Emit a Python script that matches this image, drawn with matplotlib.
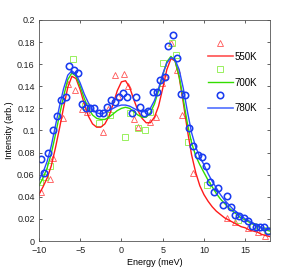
import numpy as np
import matplotlib
matplotlib.use("Agg")
import matplotlib.pyplot as plt
from matplotlib.lines import Line2D

plt.rcParams['font.family'] = ['Liberation Sans', 'DejaVu Sans']

# measured points
x550 = [-9.8, -8.7, -8.3, -7.1, -6.5, -5.6, -4.8, -4.2, -2.2, -1.6, -0.8, -0.4, 0.3, 0.8,
        1.5, 2.0, 3.5, 4.2, 4.9, 5.3, 6.0, 6.7, 7.3, 8.7, 12.8, 13.8, 15.3, 16.5, 17.4]
y550 = [0.044, 0.056, 0.075, 0.111, 0.142, 0.137, 0.119, 0.117, 0.099, 0.119, 0.150, 0.131,
        0.151, 0.140, 0.110, 0.103, 0.108, 0.112, 0.143, 0.149, 0.179, 0.155, 0.114, 0.062,
        0.021, 0.017, 0.012, 0.008, 0.005]

x700 = [-9.9, -9.3, -8.7, -5.9, -4.4, -2.7, -1.4, 0.4, 1.0, 2.0, 2.8, 3.5, 5.0, 6.1, 6.6,
        8.1, 10.4, 14.1, 16.0, 17.6]
y700 = [0.053, 0.058, 0.068, 0.165, 0.122, 0.107, 0.114, 0.094, 0.116, 0.102, 0.100, 0.117,
        0.161, 0.179, 0.168, 0.090, 0.051, 0.019, 0.014, 0.010]

x780 = [-9.8, -9.4, -8.9, -8.3, -7.8, -7.3, -6.7, -6.4, -5.8, -5.3, -4.8, -4.3, -3.8, -3.3,
        -2.7, -2.2, -1.8, -1.3, -0.8, -0.3, 0.2, 0.7, 1.3, 1.8, 2.2, 2.7, 3.2, 3.8, 4.3, 4.7,
        5.3, 5.6, 6.2, 6.7, 7.2, 7.7, 8.2, 8.7, 9.3, 9.8, 10.2, 10.7, 11.2, 11.7, 12.3, 12.8,
        13.3, 13.8, 14.3, 14.8, 15.3, 15.8, 16.3, 16.8, 17.3, 17.7]
y780 = [0.074, 0.062, 0.080, 0.100, 0.113, 0.128, 0.130, 0.158, 0.155, 0.152, 0.124, 0.120,
        0.120, 0.120, 0.116, 0.116, 0.121, 0.128, 0.126, 0.130, 0.134, 0.130, 0.116, 0.130,
        0.121, 0.116, 0.118, 0.135, 0.135, 0.146, 0.148, 0.176, 0.186, 0.166, 0.133, 0.132,
        0.102, 0.086, 0.078, 0.076, 0.068, 0.053, 0.044, 0.048, 0.033, 0.041, 0.031, 0.024,
        0.023, 0.021, 0.018, 0.014, 0.013, 0.013, 0.013, 0.009]

# fitted curves, read every 0.5 meV
xfit = np.arange(-10, 18.01, 0.5)
fit550 = [0.042, 0.049, 0.057, 0.068, 0.084, 0.102, 0.121, 0.139, 0.149, 0.147, 0.137, 0.124,
          0.113, 0.106, 0.103, 0.103, 0.106, 0.113, 0.124, 0.136, 0.144, 0.145, 0.139, 0.128,
          0.118, 0.111, 0.107, 0.107, 0.112, 0.122, 0.138, 0.155, 0.165, 0.163, 0.148, 0.125,
          0.100, 0.078, 0.062, 0.050, 0.042, 0.036, 0.031, 0.027, 0.024, 0.021, 0.019, 0.017,
          0.015, 0.013, 0.012, 0.010, 0.009, 0.008, 0.006, 0.005, 0.004]
fit700 = [0.050, 0.057, 0.066, 0.079, 0.096, 0.114, 0.131, 0.146, 0.152, 0.149, 0.140, 0.129,
          0.120, 0.114, 0.111, 0.110, 0.110, 0.112, 0.115, 0.118, 0.120, 0.121, 0.120, 0.117,
          0.114, 0.112, 0.112, 0.116, 0.124, 0.136, 0.150, 0.162, 0.167, 0.163, 0.149, 0.128,
          0.106, 0.089, 0.077, 0.069, 0.062, 0.055, 0.049, 0.043, 0.038, 0.034, 0.030, 0.027,
          0.024, 0.021, 0.019, 0.017, 0.015, 0.013, 0.012, 0.010, 0.009]
fit780 = [0.055, 0.062, 0.072, 0.086, 0.104, 0.122, 0.138, 0.150, 0.154, 0.151, 0.143, 0.133,
          0.125, 0.119, 0.116, 0.115, 0.116, 0.118, 0.120, 0.122, 0.123, 0.123, 0.122, 0.120,
          0.118, 0.117, 0.117, 0.120, 0.127, 0.138, 0.151, 0.161, 0.166, 0.164, 0.155, 0.138,
          0.117, 0.098, 0.085, 0.076, 0.069, 0.061, 0.054, 0.048, 0.042, 0.037, 0.033, 0.029,
          0.026, 0.023, 0.020, 0.018, 0.016, 0.014, 0.012, 0.011, 0.010]

labels = ['550K', '700K', '780K']
red, green, blue = '#ff1a1a', '#33dd00', '#2a4bff'

fig = plt.figure(figsize=(2.99, 2.73), dpi=100)
ax = fig.add_axes([0.130, 0.117, 0.773, 0.810])

ax.plot(x550, y550, '^', ms=5, mfc='none', mec='#ff5555', mew=0.6)
ax.plot(x700, y700, 's', ms=3.8, mfc='none', mec='#88ee44', mew=0.6)
ax.plot(xfit, fit550, '-', color=red, lw=1.0)
ax.plot(xfit, fit700, '-', color=green, lw=1.0)
ax.plot(xfit, fit780, '-', color=blue, lw=1.0)
ax.plot(x780, y780, 'o', ms=4.6, mfc='none', mec='#1a3cf0', mew=1.15)

ax.set_xlim(-10, 18)
ax.set_ylim(0, 0.2)
ax.set_xticks([-10, -5, 0, 5, 10, 15])
ax.set_yticks(np.arange(0, 0.201, 0.02))
ax.set_yticklabels(['0', '0.02', '0.04', '0.06', '0.08', '0.1', '0.12', '0.14', '0.16', '0.18', '0.2'])
ax.tick_params(direction='in', top=True, right=True, labelsize=6.5, length=2.5, width=0.5,
               colors='#222222')
ax.tick_params(axis='x', pad=3.5)
ax.tick_params(axis='y', pad=3)
for s in ax.spines.values():
    s.set_linewidth(0.6)
    s.set_color('#555555')
ax.set_xlabel('Energy (meV)', fontsize=6.5, labelpad=2.5)
ax.set_ylabel('Intensity (arb.)', fontsize=6.5, labelpad=2)

handles = [
    Line2D([], [], ls='none', marker='^', ms=5, mfc='none', mec='#ff5555', mew=0.6),
    Line2D([], [], color='#ff5050', lw=1.2),
    Line2D([], [], ls='none', marker='s', ms=3.8, mfc='none', mec='#88ee44', mew=0.6),
    Line2D([], [], color=green, lw=1.0),
    Line2D([], [], ls='none', marker='o', ms=4.6, mfc='none', mec='#1a3cf0', mew=1.15),
    Line2D([], [], color='#5070ff', lw=1.2),
]
leg_labels = ['', labels[0], '', labels[1], '', labels[2]]
ax.legend(handles, leg_labels, loc='upper right', bbox_to_anchor=(0.975, 0.945), frameon=False,
          fontsize=7, handlelength=2.6, handletextpad=0.2, labelspacing=0.3, borderaxespad=0.3)

fig.savefig('out.png', dpi=100)
